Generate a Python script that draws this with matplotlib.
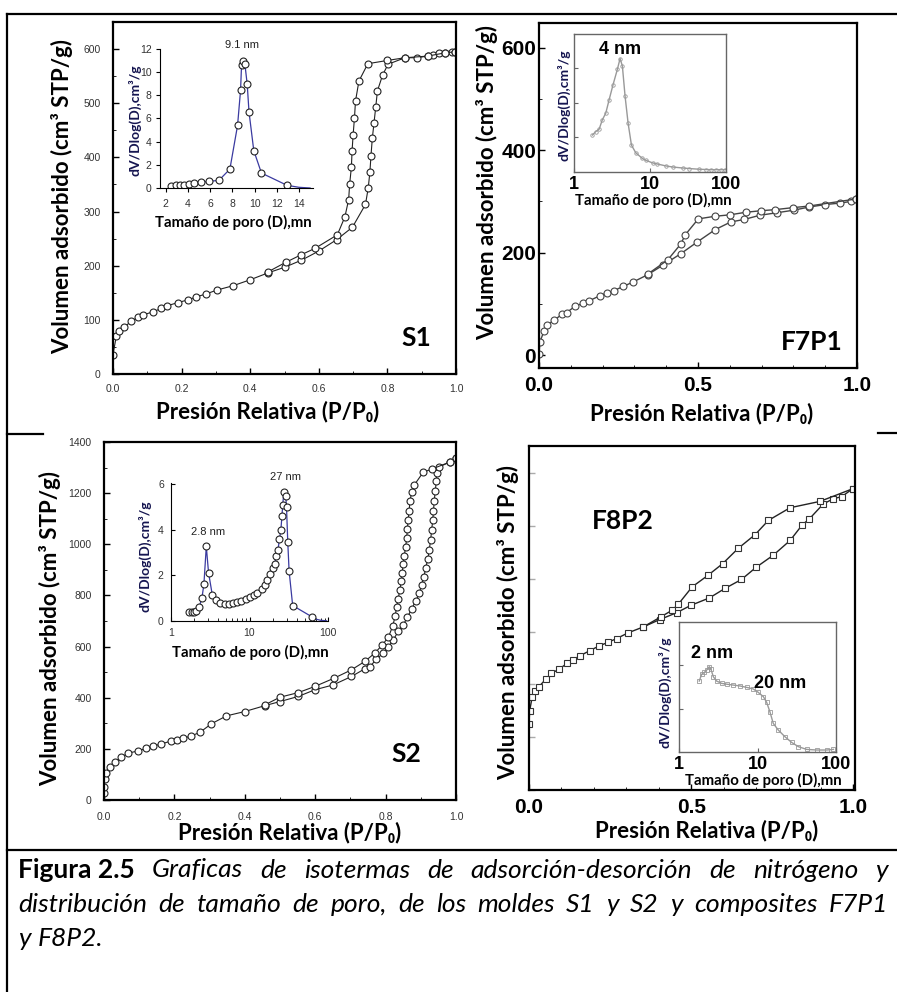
import numpy as np
import matplotlib.pyplot as plt
from matplotlib.lines import Line2D
from matplotlib.ticker import MultipleLocator, NullFormatter, FixedLocator

plt.rcParams['font.family'] = ['Lato', 'DejaVu Sans']

W, H = 897, 992

# ===== S1 isotherm =====
s1_ads_p = [0, 0.01, 0.018, 0.031, 0.053, 0.073, 0.088, 0.117, 0.141, 0.158, 0.19, 0.219,
            0.241, 0.272, 0.303, 0.35, 0.4, 0.453, 0.5, 0.549, 0.6, 0.652, 0.698, 0.736,
            0.744, 0.749, 0.752, 0.756, 0.761, 0.766, 0.771, 0.786, 0.802, 0.851, 0.885,
            0.917, 0.934, 0.951, 0.968, 0.987, 0.997]
s1_ads_v = [36, 71, 80, 86, 97, 105, 109, 115, 121, 126, 132, 137, 142, 148, 155, 163, 174,
            187, 197, 210, 227, 248, 271, 313, 343, 373, 402, 435, 464, 493, 523, 552, 572,
            584, 584, 587, 589, 592, 593, 595, 595]
s1_des_p = [0.997, 0.968, 0.917, 0.851, 0.8, 0.743, 0.717, 0.707, 0.704, 0.7, 0.697, 0.695,
            0.69, 0.687, 0.676, 0.654, 0.589, 0.548, 0.503, 0.453]
s1_des_v = [595, 593, 587, 584, 579, 573, 541, 504, 473, 441, 412, 382, 351, 322, 290, 257,
            232, 220, 206, 189]

# S1 pore size distribution
s1_psd_d = [2.45, 2.9, 3.29, 3.65, 4.13, 4.57, 5.14, 5.89, 6.79, 7.78, 8.47, 8.74, 8.83,
            8.98, 9.13, 9.34, 9.5, 9.93, 10.62, 12.93]
s1_psd_v = [0.2, 0.23, 0.26, 0.29, 0.37, 0.43, 0.49, 0.57, 0.66, 1.63, 5.4, 8.43, 10.63,
            11.0, 10.7, 8.94, 6.57, 3.23, 1.29, 0.23]
s1_tail_d = [12.93, 14.0, 15.0]
s1_tail_v = [0.23, 0.06, 0.0]

# ===== F7P1 isotherm =====
f7_ads_p = [0, 0.003, 0.016, 0.026, 0.048, 0.073, 0.087, 0.113, 0.137, 0.158, 0.192, 0.213,
            0.236, 0.265, 0.297, 0.342, 0.391, 0.446, 0.498, 0.554, 0.603, 0.646, 0.694,
            0.748, 0.801, 0.848, 0.9, 0.948, 0.98, 0.998]
f7_ads_v = [2, 26, 47, 59, 68, 80, 83, 95, 101, 106, 116, 121, 126, 134, 143, 157, 176, 198,
            221, 245, 260, 265, 273, 278, 283, 289, 294, 297, 300, 305]
f7_des_p = [0.998, 0.848, 0.799, 0.741, 0.699, 0.651, 0.601, 0.552, 0.501, 0.46, 0.446,
            0.405, 0.344]
f7_des_v = [305, 291, 288, 284, 282, 279, 274, 271, 266, 235, 217, 186, 159]

f7_psd_d = [1.75, 1.93, 2.14, 2.36, 2.62, 2.9, 3.27, 3.72, 4.04, 4.33, 4.7, 5.15, 5.7, 6.5,
            7.95, 8.8, 10.8, 12.5, 16.2, 20, 26.9, 33, 44.5, 55, 63, 73.8, 85, 98]
f7_psd_v = [0.268, 0.293, 0.31, 0.378, 0.427, 0.524, 0.634, 0.744, 0.822, 0.768, 0.549,
            0.354, 0.195, 0.139, 0.098, 0.085, 0.066, 0.058, 0.044, 0.036, 0.029, 0.025,
            0.02, 0.018, 0.017, 0.017, 0.017, 0.017]

# ===== S2 isotherm =====
s2_ads_p = [0, 0, 0.002, 0.007, 0.016, 0.03, 0.049, 0.068, 0.097, 0.12, 0.139, 0.163, 0.191,
            0.206, 0.225, 0.248, 0.272, 0.305, 0.348, 0.4, 0.457, 0.5, 0.552, 0.599, 0.651,
            0.703, 0.741, 0.756, 0.774, 0.793, 0.808, 0.822, 0.836, 0.85, 0.862, 0.874,
            0.886, 0.896, 0.902, 0.909, 0.914, 0.92, 0.924, 0.928, 0.931, 0.934, 0.936,
            0.938, 0.941, 0.944, 0.945, 0.953, 0.983, 1.0]
s2_ads_v = [26, 52, 81, 107, 130, 147, 167, 183, 192, 202, 211, 219, 231, 235, 241, 251, 264,
            298, 329, 346, 369, 385, 405, 431, 450, 483, 513, 522, 551, 574, 598, 627, 659,
            685, 714, 748, 779, 809, 842, 874, 909, 942, 979, 1018, 1057, 1096, 1129, 1168,
            1207, 1246, 1279, 1303, 1322, 1338]
s2_des_p = [1.0, 0.983, 0.933, 0.907, 0.882, 0.874, 0.869, 0.867, 0.864, 0.862, 0.86, 0.857,
            0.853, 0.85, 0.847, 0.845, 0.84, 0.836, 0.831, 0.827, 0.82, 0.808, 0.791, 0.769,
            0.741, 0.703, 0.653, 0.599, 0.552, 0.5, 0.457]
s2_des_v = [1338, 1322, 1295, 1282, 1233, 1203, 1168, 1131, 1096, 1061, 1025, 990, 956, 921,
            888, 855, 822, 786, 753, 718, 679, 637, 607, 574, 542, 509, 476, 444, 420, 402,
            372]

s2_psd_d = [1.72, 1.85, 1.97, 2.09, 2.3, 2.49, 2.64, 2.83, 3.02, 3.37, 3.74, 4.2, 4.87, 5.53,
            6.2, 7.03, 7.9, 9.16, 10.0, 11.3, 12.6, 14.2, 15.6, 16.9, 18.4, 19.9, 20.9, 21.9,
            23.0, 24.0, 25.0, 25.8, 26.4, 27.3, 28.8, 29.5, 30.6, 31.8, 35.3, 61.5]
s2_psd_v = [0.41, 0.41, 0.40, 0.44, 0.63, 1.0, 1.63, 3.28, 2.13, 1.15, 0.93, 0.81, 0.75,
            0.75, 0.78, 0.84, 0.88, 0.96, 1.04, 1.15, 1.25, 1.4, 1.59, 1.81, 2.07, 2.31, 2.5,
            2.87, 3.13, 3.6, 4.0, 4.6, 5.1, 5.66, 5.5, 5.0, 3.46, 2.2, 0.68, 0.19]
s2_tail_d = [61.5, 70, 80, 95]
s2_tail_v = [0.19, 0.08, 0.03, 0.01]

# ===== F8P2 isotherm =====
f8_ads_p = [0.0, 0.002, 0.01, 0.017, 0.031, 0.053, 0.069, 0.093, 0.117, 0.136, 0.156, 0.187,
            0.216, 0.244, 0.27, 0.306, 0.352, 0.403, 0.455, 0.499, 0.556, 0.604, 0.655, 0.7,
            0.753, 0.805, 0.843, 0.863, 0.907, 0.938, 0.964, 0.998]
f8_ads_v = [125, 150, 177, 188, 196, 211, 221, 229, 240, 247, 254, 264, 273, 280, 287, 298,
            309, 323, 336, 350, 364, 382, 399, 422, 445, 473, 503, 513, 542, 552, 556, 571]
f8_des_p = [0.998, 0.897, 0.805, 0.738, 0.697, 0.645, 0.597, 0.552, 0.503, 0.46, 0.442,
            0.406, 0.352]
f8_des_v = [571, 547, 535, 511, 484, 458, 429, 407, 385, 352, 341, 328, 309]

f8_psd_d = [1.8, 1.93, 2.09, 2.24, 2.42, 2.54, 2.72, 3.0, 3.48, 4.11, 4.9, 5.97, 7.25, 8.8,
            10.2, 11.9, 13.1, 14.4, 15.9, 18.4, 22.4, 27.3, 33.3, 42.4, 57.1, 76.7, 93.5]
f8_psd_v = [0.546, 0.598, 0.613, 0.631, 0.657, 0.637, 0.58, 0.546, 0.528, 0.521, 0.515,
            0.508, 0.497, 0.485, 0.459, 0.425, 0.381, 0.309, 0.219, 0.168, 0.116, 0.072,
            0.039, 0.018, 0.013, 0.013, 0.018]


fig = plt.figure(figsize=(W / 100, H / 100), dpi=100)


def px_axes(x0, y0, x1, y1):
    return fig.add_axes([x0 / W, 1 - y1 / H, (x1 - x0) / W, (y1 - y0) / H])


def ftext(x, y, s, **kw):
    kw.setdefault('ha', 'center')
    kw.setdefault('va', 'center')
    return fig.text(x / W, 1 - y / H, s, **kw)


def hline(x0, x1, y, lw=1.6):
    fig.add_artist(Line2D([x0 / W, x1 / W], [1 - y / H, 1 - y / H], color='black', lw=lw,
                          transform=fig.transFigure))


def small_ticks(ax, size=7.5, color='#333333'):
    for lbl in ax.get_xticklabels() + ax.get_yticklabels():
        lbl.set_family('Liberation Sans')
        lbl.set_fontsize(size)
        lbl.set_color(color)


def bold_ticks(ax, size=15):
    for lbl in ax.get_xticklabels() + ax.get_yticklabels():
        lbl.set_family('Liberation Sans')
        lbl.set_fontweight('bold')
        lbl.set_fontsize(size)


iso = dict(lw=0.8, color='#222222', marker='o', ms=5, mfc='white', mec='#222222', mew=0.8)
ylab = 'Volumen adsorbido (cm³ STP/g)'
xlab = 'Presión Relativa (P/P₀)'
inset_x = 'Tamaño de poro (D),mn'
inset_y = 'dV/Dlog(D),cm³/g'
LAB = 16
INX = 10.8

# frame of the figure
fig.add_artist(Line2D([7 / W, 7 / W], [0, 1 - 14 / H], color='black', lw=1.6,
                      transform=fig.transFigure))
hline(7, 897, 14)
hline(7, 897, 850)
hline(7, 43, 434)
hline(878, 897, 433)

# ---------- S1 ----------
ax = px_axes(113, 22, 456, 374)
ax.plot(s1_ads_p, s1_ads_v, **iso)
ax.plot(s1_des_p, s1_des_v, **iso)
ax.set_xlim(0, 1)
ax.set_ylim(0, 650)
ax.xaxis.set_major_locator(MultipleLocator(0.2))
ax.xaxis.set_minor_locator(MultipleLocator(0.1))
ax.yaxis.set_major_locator(FixedLocator([0, 100, 200, 300, 400, 500, 600]))
ax.yaxis.set_minor_locator(MultipleLocator(50))
ax.xaxis.set_major_formatter(lambda v, p: f'{v:.1f}')
ax.tick_params(direction='in', length=4, width=1, pad=7)
ax.tick_params(which='minor', direction='in', length=2.5)
ax.tick_params(axis='y', pad=9)
for s in ax.spines.values():
    s.set_linewidth(1.6)
small_ticks(ax)
ftext(62, 197, ylab, rotation=90, fontsize=LAB, fontweight='bold')
ftext(268, 412, xlab, fontsize=LAB, fontweight='bold')
ftext(416, 338, 'S1', fontsize=19, fontweight='bold')

axi = px_axes(160, 49, 313, 188)
axi.plot(s1_tail_d, s1_tail_v, color='#3a3aa0', lw=0.9)
axi.plot(s1_psd_d, s1_psd_v, color='#3a3aa0', lw=0.9, marker='o', ms=5, mfc='white',
         mec='#222222', mew=0.8)
axi.set_xlim(1.49, 15.26)
axi.set_ylim(0, 12)
axi.set_xticks([2, 4, 6, 8, 10, 12, 14])
axi.set_yticks([0, 2, 4, 6, 8, 10, 12])
axi.spines[['top', 'right']].set_visible(False)
axi.tick_params(direction='out', length=3, width=0.8, pad=3)
axi.tick_params(axis='x', pad=5)
axi.patch.set_alpha(0)
small_ticks(axi)
ftext(135, 120, inset_y, rotation=90, fontsize=10, fontweight='bold', color='#151550')
ftext(233, 222, inset_x, fontsize=INX, fontweight='bold')
ftext(242, 45, '9.1 nm', fontsize=8, family='Liberation Sans', color='#222222')

# ---------- F7P1 ----------
ax = px_axes(539, 23, 857, 368)
ax.plot(f7_ads_p, f7_ads_v, **dict(iso, color='#444444', mec='#444444', lw=1))
ax.plot(f7_des_p, f7_des_v, **dict(iso, color='#444444', mec='#444444', lw=1))
ax.set_xlim(0, 1)
ax.set_ylim(-25.4, 648.8)
ax.set_xticks([0, 0.5, 1.0])
ax.xaxis.set_minor_locator(MultipleLocator(0.1))
ax.set_yticks([0, 200, 400, 600])
ax.yaxis.set_minor_locator(MultipleLocator(100))
ax.xaxis.set_major_formatter(lambda v, p: f'{v:.1f}')
ax.tick_params(direction='in', length=4, width=1, pad=6)
ax.tick_params(which='minor', direction='in', length=2.5)
ax.tick_params(axis='y', pad=2)
for s in ax.spines.values():
    s.set_linewidth(1.6)
bold_ticks(ax)
ftext(487, 183, ylab, rotation=90, fontsize=LAB, fontweight='bold')
ftext(702, 414, xlab, fontsize=LAB, fontweight='bold')
ftext(812, 342, 'F7P1', fontsize=19, fontweight='bold')

axi = px_axes(574, 34, 726, 172)
axi.plot(f7_psd_d, f7_psd_v, color='#999999', lw=1, marker='o', ms=2.5, mfc='none',
         mec='#999999', mew=0.6)
axi.set_xscale('log')
axi.set_xlim(1, 100)
axi.set_ylim(0, 1)
axi.set_xticks([1, 10, 100])
axi.set_xticklabels(['1', '10', '100'])
axi.xaxis.set_minor_formatter(NullFormatter())
axi.tick_params(which='minor', length=0)
axi.set_yticks([0.25, 0.5, 0.75])
axi.set_yticklabels([])
axi.tick_params(direction='in', length=3, width=0.8, pad=3, color='#666666')
for s in axi.spines.values():
    s.set_color('#666666')
    s.set_linewidth(1)
bold_ticks(axi, 13)
ftext(564, 105, inset_y, rotation=90, fontsize=10, fontweight='bold', color='#151550')
ftext(653, 200, inset_x, fontsize=INX, fontweight='bold')
ftext(620, 49, '4 nm', fontsize=13, fontweight='bold', family='Liberation Sans')

# ---------- S2 ----------
ax = px_axes(104, 442, 456, 800)
ax.plot(s2_ads_p, s2_ads_v, **iso)
ax.plot(s2_des_p, s2_des_v, **iso)
ax.set_xlim(0, 1)
ax.set_ylim(0, 1400)
ax.xaxis.set_major_locator(MultipleLocator(0.2))
ax.xaxis.set_minor_locator(MultipleLocator(0.1))
ax.yaxis.set_major_locator(MultipleLocator(200))
ax.yaxis.set_minor_locator(MultipleLocator(100))
ax.xaxis.set_major_formatter(lambda v, p: f'{v:.1f}')
ax.tick_params(direction='in', length=4, width=1, pad=9)
ax.tick_params(which='minor', direction='in', length=2.5)
for s in ax.spines.values():
    s.set_linewidth(1.6)
small_ticks(ax)
ftext(50, 628, ylab, rotation=90, fontsize=LAB, fontweight='bold')
ftext(290, 833, xlab, fontsize=LAB, fontweight='bold')
ftext(406, 754, 'S2', fontsize=19, fontweight='bold')

axi = px_axes(170.7, 483.3, 328.3, 621)
axi.plot(s2_tail_d, s2_tail_v, color='#3a3aa0', lw=0.9)
axi.plot(s2_psd_d, s2_psd_v, color='#3a3aa0', lw=0.9, marker='o', ms=5, mfc='white',
         mec='#222222', mew=0.8)
axi.set_xscale('log')
axi.set_xlim(1, 100)
axi.set_ylim(0, 6.05)
axi.set_xticks([1, 10, 100])
axi.set_xticklabels(['1', '10', '100'])
axi.xaxis.set_minor_formatter(NullFormatter())
axi.set_yticks([0, 2, 4, 6])
axi.spines[['top', 'right']].set_visible(False)
axi.tick_params(direction='in', length=3, width=0.8, pad=5)
axi.tick_params(which='minor', direction='in', length=2, width=0.6)
axi.patch.set_alpha(0)
small_ticks(axi)
ftext(145, 556, inset_y, rotation=90, fontsize=10, fontweight='bold', color='#151550')
ftext(250, 652, inset_x, fontsize=INX, fontweight='bold')
ftext(208, 532, '2.8 nm', fontsize=8, family='Liberation Sans', color='#222222')
ftext(285, 477, '27 nm', fontsize=8, family='Liberation Sans', color='#222222')

# ---------- F8P2 ----------
ax = px_axes(529, 446, 855, 790)
sq = dict(iso, marker='s', ms=4.5, color='#222222', mec='#333333', lw=1)
ax.plot(f8_ads_p, f8_ads_v, **sq)
ax.plot(f8_des_p, f8_des_v, **sq)
ax.set_xlim(0, 1.005)
ax.set_ylim(0, 652)
ax.set_xticks([0, 0.5, 1.0])
ax.xaxis.set_minor_locator(MultipleLocator(0.1))
ax.yaxis.set_major_locator(MultipleLocator(100))
ax.set_yticklabels([])
ax.xaxis.set_major_formatter(lambda v, p: f'{v:.1f}')
ax.tick_params(direction='in', length=4, width=1, pad=6)
ax.tick_params(which='minor', direction='in', length=2.5)
ax.tick_params(axis='y', color='#aaaaaa')
for s in ax.spines.values():
    s.set_linewidth(1.6)
bold_ticks(ax)
ftext(508, 623, ylab, rotation=90, fontsize=LAB, fontweight='bold')
ftext(707, 831, xlab, fontsize=LAB, fontweight='bold')
ftext(623, 521, 'F8P2', fontsize=19, fontweight='bold')

axi = px_axes(679.3, 622.3, 835.7, 751.7)
axi.plot(f8_psd_d, f8_psd_v, color='#999999', lw=1, marker='s', ms=2.3, mfc='none',
         mec='#999999', mew=0.6)
axi.set_xscale('log')
axi.set_xlim(1, 100)
axi.set_ylim(0, 1)
axi.set_xticks([1, 10, 100])
axi.set_xticklabels(['1', '10', '100'])
axi.xaxis.set_minor_formatter(NullFormatter())
axi.tick_params(which='minor', length=0)
axi.set_yticks([1 / 3, 2 / 3])
axi.set_yticklabels([])
axi.tick_params(direction='in', length=3, width=0.8, pad=3, color='#666666')
for s in axi.spines.values():
    s.set_color('#666666')
    s.set_linewidth(1)
bold_ticks(axi, 13)
ftext(665, 692, inset_y, rotation=90, fontsize=10, fontweight='bold', color='#151550')
ftext(763, 780, inset_x, fontsize=INX, fontweight='bold')
ftext(712, 654, '2 nm', fontsize=13, fontweight='bold', family='Liberation Sans')
ftext(780, 683, '20 nm', fontsize=13, fontweight='bold', family='Liberation Sans')

# ---------- caption (justified) ----------
cap_lines = [
    [('Figura 2.5', 'bold'), ('Graficas', 'it'), ('de', 'it'), ('isotermas', 'it'), ('de', 'it'),
     ('adsorción-desorción', 'it'), ('de', 'it'), ('nitrógeno', 'it'), ('y', 'it')],
    [(w, 'it') for w in 'distribución de tamaño de poro, de los moldes S1 y S2 y composites F7P1'.split()],
    [('y', 'it'), ('F8P2.', 'it')],
]
cap_y = [870, 904, 938]
renderer = fig.canvas.get_renderer()
for words, y, just in zip(cap_lines, cap_y, [True, True, False]):
    items = []
    for w, st in words:
        if st == 'bold':
            t = ftext(0, y, w, ha='left', fontsize=19, fontweight='bold')
        else:
            t = ftext(0, y, w, ha='left', fontsize=19, style='italic')
        items.append(t)
    widths = [t.get_window_extent(renderer).width for t in items]
    gap = (888 - 18 - sum(widths)) / (len(items) - 1) if just else 7
    x = 18
    for t, w in zip(items, widths):
        t.set_x(x / W)
        x += w + gap

fig.savefig('out.png', dpi=100)
